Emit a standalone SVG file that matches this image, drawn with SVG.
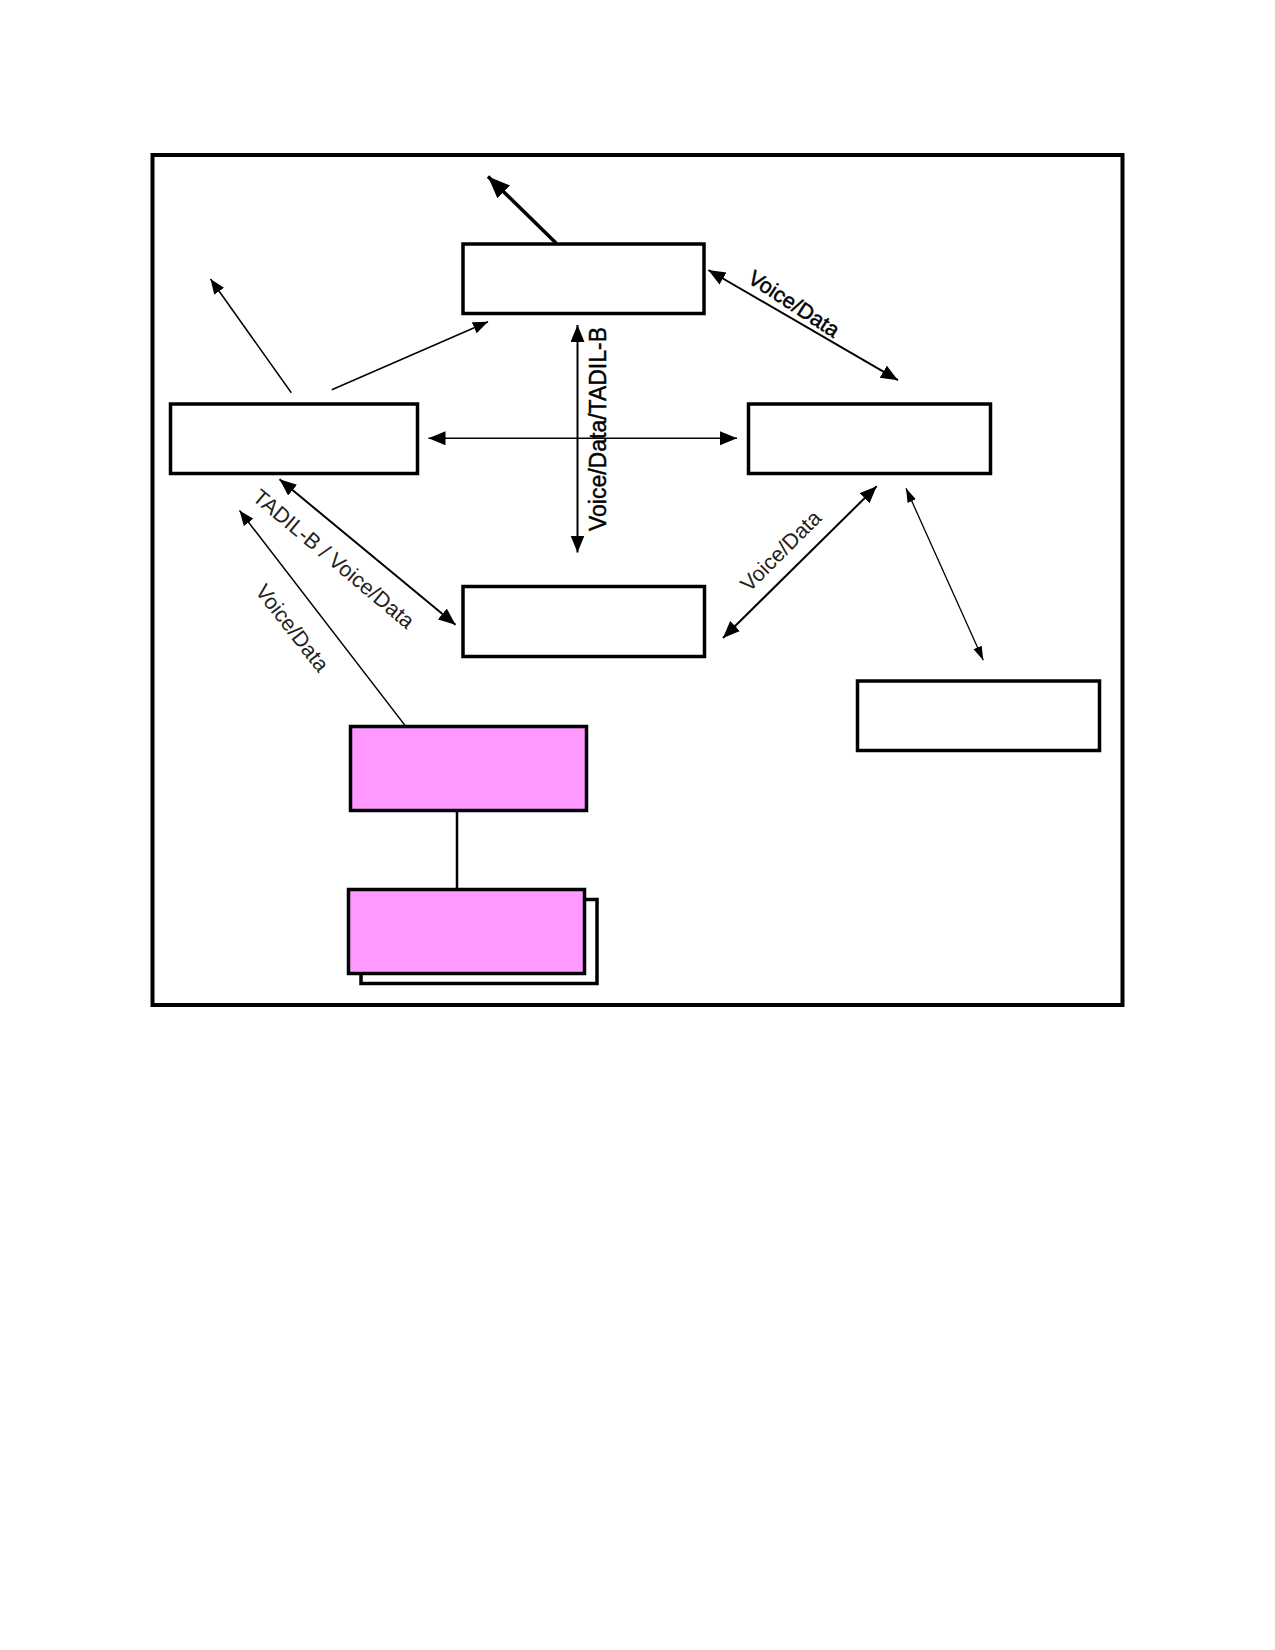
<svg xmlns="http://www.w3.org/2000/svg" width="1275" height="1650" viewBox="0 0 1275 1650">
<style>
.box{fill:#fff;stroke:#000;stroke-width:3.5}
.pink{fill:#ff99ff;stroke:#000;stroke-width:3.5}
.c{fill:none;stroke:#000}
.lbl{font-family:"Liberation Sans",Arial,sans-serif;font-size:21.5px;fill:#000;text-anchor:middle}
.dark{stroke:#000;stroke-width:0.45}
.thin{fill:#222}
</style>
<defs>
<marker id="big" markerUnits="userSpaceOnUse" markerWidth="24" markerHeight="20" refX="22" refY="9" orient="auto-start-reverse"><path d="M0,0 L22,9 L0,18 z" fill="#000"/></marker>
<marker id="med" markerUnits="userSpaceOnUse" markerWidth="19" markerHeight="15" refX="17" refY="7" orient="auto-start-reverse"><path d="M0,0 L17,7 L0,14 z" fill="#000"/></marker>
<marker id="sm" markerUnits="userSpaceOnUse" markerWidth="17" markerHeight="13" refX="15" refY="6" orient="auto-start-reverse"><path d="M0,0 L15,6 L0,12 z" fill="#000"/></marker>
<marker id="xs" markerUnits="userSpaceOnUse" markerWidth="16" markerHeight="10" refX="14" refY="4.5" orient="auto-start-reverse"><path d="M0,0 L14,4.5 L0,9 z" fill="#000"/></marker>
</defs>
<rect id="frame" x="152.5" y="155" width="970" height="850" fill="#fff" stroke="#000" stroke-width="4"/>
<g id="connectors">
<line class="c" x1="556" y1="243" x2="488" y2="176.5" stroke-width="3.5" marker-end="url(#big)"/>
<line class="c" x1="291.3" y1="392.8" x2="210.5" y2="279" stroke-width="1.5" marker-end="url(#sm)"/>
<line class="c" x1="331.8" y1="389.8" x2="488" y2="321.8" stroke-width="1.5" marker-end="url(#sm)"/>
<line class="c" x1="708.3" y1="270" x2="898" y2="380.2" stroke-width="2" marker-start="url(#med)" marker-end="url(#med)"/>
<line class="c" x1="577.5" y1="325" x2="577.5" y2="552.5" stroke-width="2" marker-start="url(#med)" marker-end="url(#med)"/>
<line class="c" x1="428.5" y1="438.3" x2="737" y2="438.3" stroke-width="1.5" marker-start="url(#med)" marker-end="url(#med)"/>
<line class="c" x1="279.5" y1="479.3" x2="455.5" y2="624.8" stroke-width="2" marker-start="url(#med)" marker-end="url(#med)"/>
<line class="c" x1="405" y1="725.4" x2="239.5" y2="510.5" stroke-width="1.5" marker-end="url(#sm)"/>
<line class="c" x1="723" y1="638" x2="876.7" y2="486.2" stroke-width="2" marker-start="url(#med)" marker-end="url(#med)"/>
<line class="c" x1="906" y1="488.3" x2="983.3" y2="660.2" stroke-width="1.3" marker-start="url(#xs)" marker-end="url(#xs)"/>
<line class="c" x1="457" y1="810" x2="457" y2="889" stroke-width="2.5"/>
</g>
<g id="labels">
<text class="lbl dark" transform="translate(790,310) rotate(33)">Voice/Data</text>
<text class="lbl dark" style="font-size:23px" transform="translate(606,429) rotate(-90)">Voice/Data/TADIL-B</text>
<text class="lbl thin" transform="translate(329,564.5) rotate(40)">TADIL-B / Voice/Data</text>
<text class="lbl thin" transform="translate(286.5,632.5) rotate(52)">Voice/Data</text>
<text class="lbl thin" transform="translate(786,556) rotate(-45)">Voice/Data</text>
</g>
<g id="node-top"><rect class="box" x="463" y="244" width="241" height="69.5"/></g>
<g id="node-left"><rect class="box" x="170.5" y="404" width="247" height="69.5"/></g>
<g id="node-right"><rect class="box" x="748.5" y="404" width="242" height="69.5"/></g>
<g id="node-middle"><rect class="box" x="463" y="586.5" width="241.5" height="70"/></g>
<g id="node-far-right"><rect class="box" x="857.5" y="681" width="242" height="69.5"/></g>
<g id="node-pink-1"><rect class="pink" x="350.5" y="726.5" width="236" height="84"/></g>
<g id="node-pink-2">
<rect class="box" x="361" y="899.5" width="236" height="84"/>
<rect class="pink" x="348.5" y="889.5" width="236" height="84"/>
</g>
</svg>
